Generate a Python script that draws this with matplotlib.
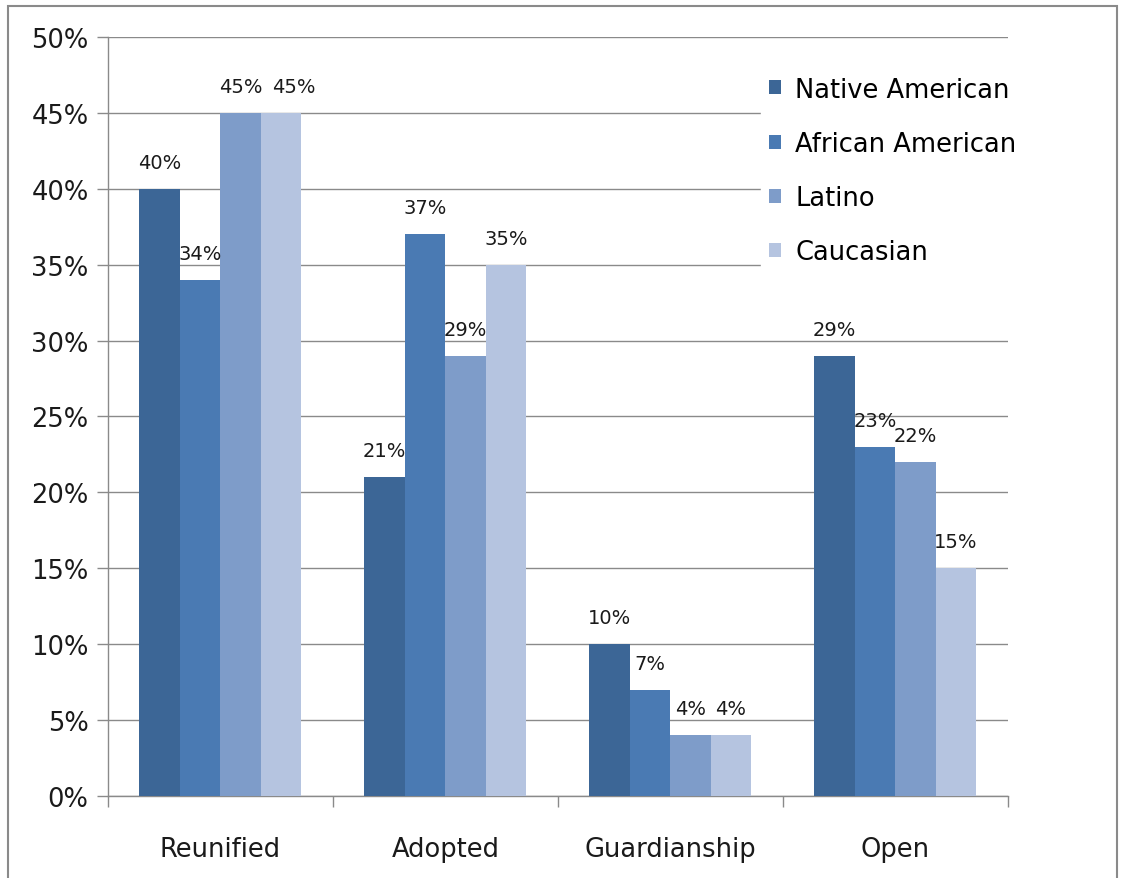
import matplotlib.pyplot as plt
import numpy as np
from matplotlib.patches import Rectangle

categories = ["Reunified", "Adopted", "Guardianship", "Open"]
series = ["Native American", "African American", "Latino", "Caucasian"]
native = [40, 21, 10, 29]
african = [34, 37, 7, 23]
latino = [45, 29, 4, 22]
caucasian = [45, 35, 4, 15]
values = [native, african, latino, caucasian]
colors = ["#3C6696", "#4A7AB3", "#7E9CC9", "#B5C4E0"]

plt.rcParams["font.family"] = ["DejaVu Sans"]

fig = plt.figure(figsize=(11.21, 8.79), dpi=100)
ax = fig.add_axes([0.0963, 0.0933, 0.8025, 0.8635])

# outer chart frame
fig.patches.append(Rectangle((0.007, -0.02), 0.989, 1.012, transform=fig.transFigure,
                             fill=False, edgecolor="#8a8a8a", linewidth=1.5))

x = np.arange(len(categories))
width = 0.18
for i, (vals, col, name) in enumerate(zip(values, colors, series)):
    pos = x + (i - 1.5) * width
    bars = ax.bar(pos, vals, width, color=col, label=name, zorder=3)
    for j, (b, v) in enumerate(zip(bars, vals)):
        # nudge a label right when it would collide with the neighbour's label at same height
        dx = 0
        if i > 0 and values[i - 1][j] == v and v > 20:
            dx = 9
        ax.annotate(f"{v}%", (b.get_x() + b.get_width() / 2, v), xytext=(dx, 19),
                    textcoords="offset points", ha="center", va="center",
                    fontsize=14, color="#1a1a1a", zorder=4)

ax.set_xlim(-0.5, 3.5)
ax.set_ylim(0, 50)
ax.set_yticks(range(0, 51, 5))
ax.set_yticklabels([f"{t}%" for t in range(0, 51, 5)], fontsize=18.5, color="#1a1a1a")
ax.yaxis.grid(True, color="#8a8a8a", linewidth=1, zorder=0)
ax.set_axisbelow(True)

ax.set_xticks(np.arange(-0.5, 4.0, 1), minor=False)
ax.set_xticklabels([])
ax.set_xticks(x, minor=True)
ax.set_xticklabels(categories, minor=True, fontsize=18.5, color="#1a1a1a")
ax.tick_params(axis="x", which="minor", length=0, pad=29)
ax.tick_params(axis="x", which="major", length=8, color="#8a8a8a", width=1)
ax.tick_params(axis="y", length=8, color="#8a8a8a", width=1, pad=6)

for s in ["top", "right"]:
    ax.spines[s].set_visible(False)
for s in ["left", "bottom"]:
    ax.spines[s].set_color("#8a8a8a")
    ax.spines[s].set_linewidth(1)

leg = ax.legend(loc="upper left", bbox_to_anchor=(0.712, 0.975), frameon=True, facecolor="white",
                edgecolor="white", framealpha=1, fontsize=18.5, handlelength=0.47, handleheight=0.47,
                handletextpad=0.55, labelspacing=1.1, borderpad=0.3)
leg.set_zorder(5)

fig.savefig("out.png", dpi=100)
